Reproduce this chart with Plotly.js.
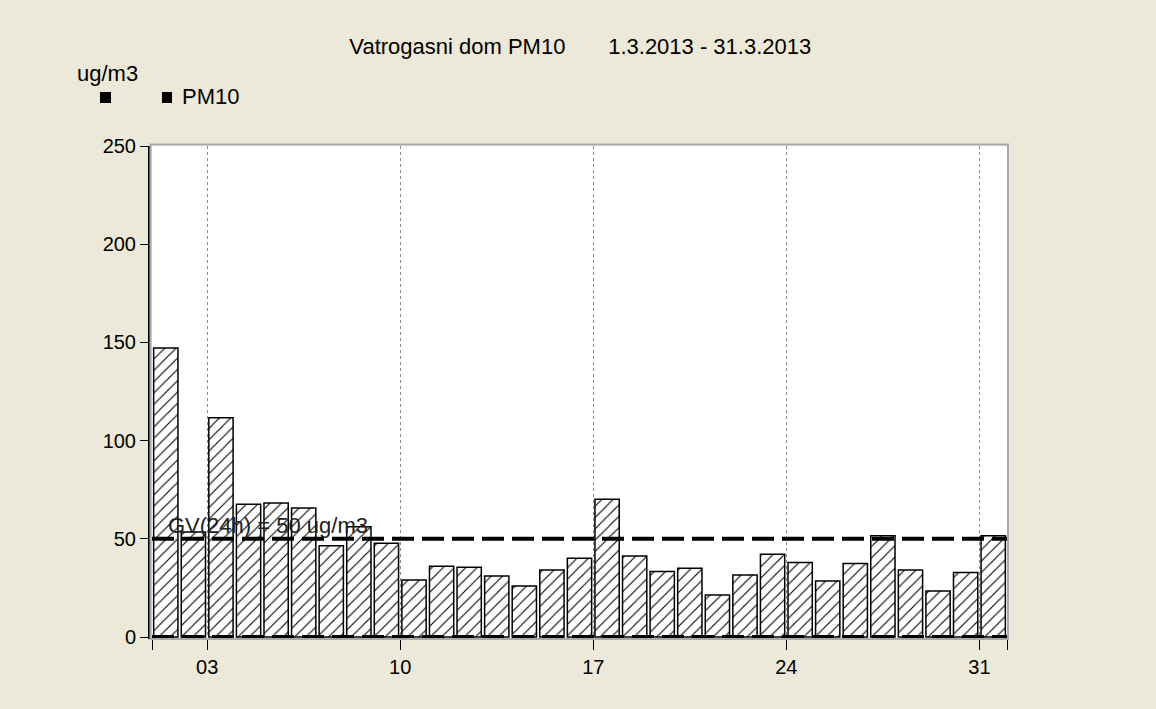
<!DOCTYPE html>
<html>
<head>
<meta charset="utf-8">
<script src="https://cdn.plot.ly/plotly-3.0.1.min.js"></script>
<style>html,body{margin:0;padding:0;background:#ECE9D8;}</style>
</head>
<body>
<div id="chart" style="width:1156px;height:709px;"></div>
<script>
// Data (March 2013, daily PM10 in ug/m3)
const days = [1,2,3,4,5,6,7,8,9,10,11,12,13,14,15,16,17,18,19,20,21,22,23,24,25,26,27,28,29,30,31];
const pm10 = [147.1,53.5,111.7,67.6,68.2,65.7,46.5,56.2,47.7,29.0,36.1,35.5,31.1,26.0,34.1,40.1,70.1,41.2,33.4,35.0,21.4,31.6,42.1,38.0,28.5,37.5,51.6,34.1,23.4,32.9,51.6];
const limitValue = 50;
const baseValue = 0;
const tickDays = [3,10,17,24,31];
const tickLabels = ['03','10','17','24','31'];
const monthStartEnd = [1,32];
const yTicks = [0,50,100,150,200,250];

const FONT = 'Liberation Sans, Arial, sans-serif';
// x axis measured in days from 1 March 00:00
const xs = days.map(d => d - 0.5);
const tv = tickDays.map(d => d - 1);
const edge = monthStartEnd.map(d => d - 1);

const L = 148, R = 1007, T = 146, B = 639;
const PW = R - L, PH = B - T;
const px = v => (v - L) / PW;
const py = v => (B - v) / PH;

const traces = [
  {
    type: 'bar', x: xs, y: pm10, width: 0.88,
    marker: {
      color: '#ffffff',
      line: {color: '#000000', width: 1.5},
      pattern: {shape: '/', fgcolor: '#000000', bgcolor: '#ffffff', size: 8, solidity: 0.14}
    },
    showlegend: false, hoverinfo: 'skip'
  },
  {
    type: 'scatter', mode: 'lines', x: edge, y: [limitValue, limitValue],
    line: {color: '#000000', width: 4, dash: '22px,8px'},
    showlegend: false, hoverinfo: 'skip'
  },
  {
    type: 'scatter', mode: 'lines', x: edge, y: [baseValue, baseValue],
    line: {color: '#000000', width: 4, dash: '22px,8px'},
    showlegend: false, hoverinfo: 'skip'
  }
];

const layout = {
  width: 1156, height: 709,
  paper_bgcolor: '#ECE9D8', plot_bgcolor: '#ffffff',
  margin: {l: L, r: 1156 - R, t: T, b: 709 - B, pad: 0},
  font: {family: FONT, size: 20, color: '#000'},
  title: {
    text: 'Vatrogasni dom PM10\u00a0\u00a0\u00a0\u00a0\u00a0\u00a0\u00a01.3.2013 - 31.3.2013',
    font: {family: FONT, size: 22, color: '#000'},
    xref: 'container', x: 0.502, xanchor: 'center',
    yref: 'container', y: 1 - 46 / 709, yanchor: 'middle'
  },
  showlegend: false,
  bargap: 0,
  xaxis: {
    domain: [4 / PW, 1],
    range: [edge[0], edge[1]],
    tickmode: 'array', tickvals: tv, ticktext: tickLabels,
    ticks: 'outside', ticklen: 10, tickcolor: '#000', tickwidth: 1,
    minor: {tickmode: 'array', tickvals: edge, ticks: 'outside', ticklen: 10, tickcolor: '#000', showgrid: false},
    showline: true, linecolor: '#000', linewidth: 1,
    showgrid: true, gridcolor: '#8a8a8a', gridwidth: 1, griddash: '3px,3px',
    zeroline: false, fixedrange: true,
    tickfont: {family: FONT, size: 20, color: '#000'}
  },
  yaxis: {
    range: [-1, 250],
    anchor: 'free', position: 0,
    tickmode: 'array', tickvals: yTicks,
    ticks: 'outside', ticklen: 8, tickcolor: '#000', tickwidth: 1,
    showline: true, linecolor: '#000', linewidth: 1.5,
    showgrid: false, zeroline: false, fixedrange: true,
    tickfont: {family: FONT, size: 20, color: '#000'}
  },
  shapes: [
    {type: 'rect', xref: 'paper', yref: 'paper', x0: px(150.5), x1: px(1008), y0: py(639), y1: py(144.5),
     line: {color: '#a9a9a9', width: 2}, fillcolor: 'rgba(0,0,0,0)', layer: 'above'},
    {type: 'rect', xref: 'paper', yref: 'paper', x0: px(100), x1: px(111), y0: py(103), y1: py(92),
     line: {width: 0}, fillcolor: '#000'},
    {type: 'rect', xref: 'paper', yref: 'paper', x0: px(162), x1: px(172), y0: py(103), y1: py(92),
     line: {width: 0}, fillcolor: '#000'}
  ],
  annotations: [
    {text: 'ug/m3', xref: 'paper', yref: 'paper', x: px(75), y: py(73), xanchor: 'left', yanchor: 'middle',
     showarrow: false, font: {family: FONT, size: 22, color: '#000'}},
    {text: 'PM10', xref: 'paper', yref: 'paper', x: px(180), y: py(97), xanchor: 'left', yanchor: 'middle',
     showarrow: false, font: {family: FONT, size: 22, color: '#000'}},
    {text: 'GV(24h) = ' + limitValue + ' ug/m3', xref: 'x', yref: 'y', x: 0.5, y: limitValue, yshift: 13,
     xanchor: 'left', yanchor: 'middle', showarrow: false,
     font: {family: FONT, size: 22, color: '#222'}}
  ]
};

Plotly.newPlot('chart', traces, layout, {staticPlot: true, displayModeBar: false});
</script>
</body>
</html>
